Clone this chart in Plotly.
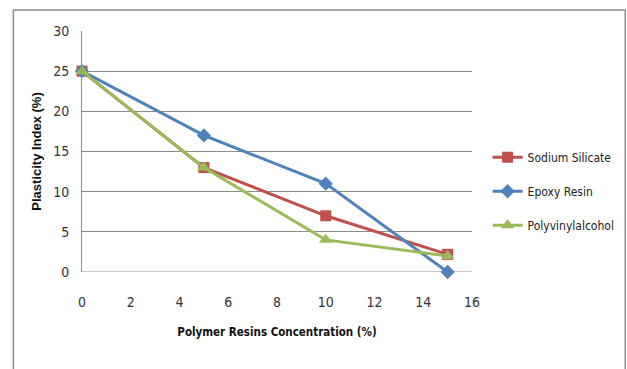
import plotly.graph_objects as go

# Polymer resin concentration (%) and resulting plasticity index (%)
concentration = [0, 5, 10, 15]
sodium_silicate = [25, 13, 7, 2.2]
epoxy_resin = [25, 17, 11, 0]
polyvinylalcohol = [25, 13, 4, 2]

x_ticks = [0, 2, 4, 6, 8, 10, 12, 14, 16]
y_ticks = [0, 5, 10, 15, 20, 25, 30]

NARROW = "DejaVu Sans Condensed, Liberation Sans Narrow, sans-serif"

series = [
    ("Sodium Silicate", sodium_silicate, "#C0504D", "square", 11),
    ("Epoxy Resin", epoxy_resin, "#4F81BD", "diamond", 11),
    ("Polyvinylalcohol", polyvinylalcohol, "#9BBB59", "triangle-up", 12),
]

fig = go.Figure()
for i, (name, values, color, symbol, size) in enumerate(series):
    fig.add_trace(go.Scatter(
        x=concentration, y=values, name=name, mode="lines+markers",
        line=dict(color=color, width=3),
        marker=dict(symbol=symbol, size=size, color=color),
        legendgroup=f"g{i}",
        cliponaxis=False,
    ))

fig.update_layout(
    width=627, height=369,
    margin=dict(l=82, r=155, t=31, b=97, autoexpand=False),
    paper_bgcolor="white", plot_bgcolor="white",
    font=dict(family=NARROW, size=13, color="#222"),
    showlegend=True,
    legend=dict(
        x=1.04, y=0.335, xanchor="left", yanchor="middle",
        traceorder="grouped", tracegroupgap=15,
        itemwidth=30,
        font=dict(family=NARROW, size=12, color="#222"),
        bgcolor="rgba(0,0,0,0)",
    ),
    xaxis=dict(
        range=[0, 16], tickvals=x_ticks, showgrid=False, zeroline=False,
        showline=False, ticks="", ticklabelstandoff=20,
        tickfont=dict(family=NARROW, size=14, color="#333"),
        title=dict(text="<b>Polymer Resins Concentration (%)</b>", standoff=18,
                   font=dict(family=NARROW, size=11.5, color="#111")),
    ),
    yaxis=dict(
        range=[0, 30], tickvals=y_ticks, showgrid=True, gridcolor="#8c8c8c",
        gridwidth=1, zeroline=False, showline=True, linecolor="#8c8c8c",
        linewidth=1, ticks="", ticklabelstandoff=9,
        tickfont=dict(family=NARROW, size=14, color="#333"),
        title=dict(text="<b>Plasticity Index (%)</b>", standoff=8,
                   font=dict(family="Liberation Sans, Arial, sans-serif", size=13, color="#111")),
    ),
    shapes=[
        # outer chart frame
        dict(type="rect", xref="paper", yref="paper",
             x0=-0.176, x1=1.393, y0=-0.5, y1=1.087,
             line=dict(color="#8c8c8c", width=1.5), layer="below"),
        # bottom axis line at y = 0
        dict(type="line", xref="paper", yref="y", x0=0, x1=1, y0=0, y1=0,
             line=dict(color="#8c8c8c", width=1), layer="below"),
    ],
)

fig.write_html("out.html")
